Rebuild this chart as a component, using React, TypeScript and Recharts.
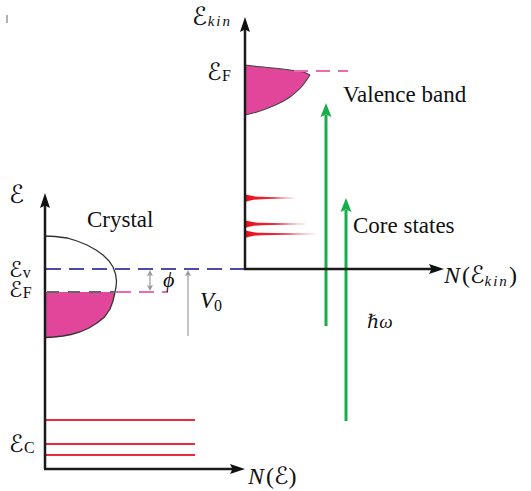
import React from 'react';
import { ComposedChart, XAxis, YAxis, Line, Area, Scatter } from 'recharts';

const W = 531;
const H = 491;

// ---- geometry (diagram units = image pixels, y measured downward) ----
const leftAxisV = [{ x: 45, y: 469 }, { x: 45, y: 203 }];
const leftAxisH = [{ x: 44, y: 469 }, { x: 236, y: 469 }];
const rightAxisV = [{ x: 245, y: 270 }, { x: 245, y: 28 }];
const rightAxisH = [{ x: 244, y: 269 }, { x: 434, y: 269 }];
const vacuumLevel = [{ x: 46, y: 269 }, { x: 244, y: 269 }];
const fermiLevelCrystal = 292;
const fermiCrystalInner = [{ x: 47, y: 292 }, { x: 115, y: 292 }];
const fermiCrystalOuter = [{ x: 116, y: 292 }, { x: 168, y: 292 }];
const fermiValence = [{ x: 294, y: 71 }, { x: 348, y: 71 }];
const coreLevelY = [420, 444, 455];
const coreLevelX = [46, 195];
const phiArrow = [{ x: 150, y: 275 }, { x: 150, y: 286 }];
const v0Arrow = [{ x: 188, y: 275 }, { x: 188, y: 336 }];
const photon1 = [{ x: 326, y: 326 }, { x: 326, y: 115 }];
const photon2 = [{ x: 346, y: 421 }, { x: 346, y: 210 }];
const marginTick = [{ x: 7, y: 15 }, { x: 7, y: 23 }];

// crystal density of states (outline)
const crystalDOS = [
  { x: 45, y: 236 }, { x: 55, y: 236.5 }, { x: 67, y: 238 }, { x: 77, y: 241 },
  { x: 87, y: 245 }, { x: 96, y: 250 }, { x: 103, y: 255 }, { x: 109, y: 261 },
  { x: 113, y: 267 }, { x: 115.5, y: 274 }, { x: 116.5, y: 281 }, { x: 116, y: 287 },
  { x: 115, y: 292 }, { x: 113, y: 301 }, { x: 110, y: 309 }, { x: 104.5, y: 317 },
  { x: 97, y: 323 }, { x: 89, y: 328 }, { x: 80, y: 332 }, { x: 71, y: 334.5 },
  { x: 63, y: 336 }, { x: 54, y: 337 }, { x: 46, y: 337.5 },
];
// occupied part (below the Fermi level): [top, bottom]
const crystalFilled = crystalDOS
  .filter((p) => p.y >= fermiLevelCrystal)
  .map((p) => ({ x: p.x, r: [fermiLevelCrystal, p.y] }))
  .sort((a, b) => a.x - b.x);

// valence band in the kinetic-energy spectrum
const valenceX = [245, 257, 273, 290, 303, 310];
const valenceTopY = [65, 66.5, 68, 70, 72, 75];
const valenceBottomY = [115, 112, 106, 97, 85, 75];
const valenceTop = valenceX.map((x, i) => ({ x, y: valenceTopY[i] }));
const valenceBottom = valenceX.map((x, i) => ({ x, y: valenceBottomY[i] }));
const valenceFilled = valenceX.map((x, i) => ({ x: Math.max(x, 246), r: [valenceTopY[i], valenceBottomY[i]] }));

// core-state peaks: centre level and tip position
const corePeakY = [198, 224, 234];
const corePeakTip = [295, 305, 315];
const peakHalfWidth = [3.6, 2.8, 1.8, 1.2, 0.8, 0.3];
const peakProfile = (yc: number, tip: number) => {
  const xs = [246, 249, 254, 262, 245 + (tip - 245) * 0.6, tip];
  return xs.map((x, i) => ({ x, r: [yc - peakHalfWidth[i], yc + peakHalfWidth[i]] }));
};

// arrow heads
const blackHeads = [
  { x: 45, y: 193, dir: 'up' }, { x: 245, y: 469, dir: 'right' },
  { x: 245, y: 17, dir: 'up' }, { x: 444, y: 269, dir: 'right' },
];
const greenHeads = [{ x: 326, y: 103, dir: 'up' }, { x: 346, y: 198, dir: 'up' }];
const grayHeads = [
  { x: 150, y: 270, dir: 'up' }, { x: 150, y: 291, dir: 'down' }, { x: 188, y: 270, dir: 'up' },
];

// labels (energy symbols; a stack lists several levels under one label)
const energyLabels = [
  { x: 9, y: 203, subs: [''], size: 25 },
  { x: 9, y: 277, subs: ['v', 'F'], size: 22 },
  { x: 9, y: 452, subs: ['C'], size: 24 },
  { x: 192, y: 25, subs: ['kin'], size: 25 },
  { x: 207, y: 80, subs: ['F'], size: 24 },
];
const stackGap = 20;
const textLabels = [
  { x: 87, y: 227, text: 'Crystal' },
  { x: 343, y: 102, text: 'Valence band' },
  { x: 353, y: 233, text: 'Core states' },
];
const dosLabels = [
  { x: 248, y: 484, sub: '' },
  { x: 444, y: 283, sub: 'kin' },
];
const symbolLabels = [
  { x: 163, y: 287, text: 'ϕ', sub: '', size: 22 },
  { x: 200, y: 308, text: 'V', sub: '0', size: 23 },
  { x: 367, y: 328, text: 'ℏω', sub: '', size: 19 },
];

const SERIF = '"Liberation Serif", "DejaVu Serif", serif';
const SCRIPT = '"DejaVu Serif", "DejaVu Sans", serif';

const headPath = (cx: number, cy: number, dir: string, len: number, hw: number, notch: number) => {
  const pts: Record<string, string> = {
    up: `M${cx},${cy} L${cx + hw},${cy + len} L${cx},${cy + len - notch} L${cx - hw},${cy + len} Z`,
    down: `M${cx},${cy} L${cx + hw},${cy - len} L${cx},${cy - len + notch} L${cx - hw},${cy - len} Z`,
    right: `M${cx},${cy} L${cx - len},${cy - hw} L${cx - len + notch},${cy} L${cx - len},${cy + hw} Z`,
  };
  return pts[dir];
};

const makeHead = (len: number, hw: number, notch: number, color: string) => (p: any) => (
  <path d={headPath(p.cx, p.cy, p.payload.dir, len, hw, notch)} fill={color} stroke="none" />
);

const EnergyText = (p: any) => {
  const subs: string[] = p.payload.subs;
  return (
    <text x={p.cx} y={p.cy} fontFamily={SCRIPT} fontSize={p.payload.size} fill="#111">
      {subs.map((s, i) => (
        <React.Fragment key={i}>
          <tspan x={p.cx} y={p.cy + i * stackGap}>ℰ</tspan>
          {s ? (
            <tspan
              dy={1}
              dx={0.5}
              fontFamily={SERIF}
              fontSize={s === 'kin' ? 15 : 16}
              fontStyle={s === 'kin' ? 'italic' : 'normal'}
              letterSpacing={s === 'kin' ? 2 : 0}
            >
              {s}
            </tspan>
          ) : null}
        </React.Fragment>
      ))}
    </text>
  );
};

const PlainText = (p: any) => (
  <text x={p.cx} y={p.cy} fontFamily={SERIF} fontSize={23} fill="#111">
    {p.payload.text}
  </text>
);

const DosText = (p: any) => (
  <text x={p.cx} y={p.cy} fontFamily={SERIF} fontSize={24} fill="#111">
    <tspan fontStyle="italic">N</tspan>
    <tspan dx={2}>(</tspan>
    <tspan fontFamily={SCRIPT} fontSize={24}>ℰ</tspan>
    {p.payload.sub ? (
      <tspan dy={3} fontSize={15} fontStyle="italic" letterSpacing={2}>
        {p.payload.sub}
      </tspan>
    ) : null}
    <tspan dy={p.payload.sub ? -3 : 0}>)</tspan>
  </text>
);

const SymbolText = (p: any) => (
  <text x={p.cx} y={p.cy} fontFamily={SERIF} fontSize={p.payload.size} fontStyle="italic" fill="#111">
    {p.payload.text}
    {p.payload.sub ? (
      <tspan dy={3} fontSize={16} fontStyle="normal">
        {p.payload.sub}
      </tspan>
    ) : null}
  </text>
);

const seg = (data: any[], color: string, width: number, dash?: string, type: any = 'linear') => (
  <Line
    data={data}
    dataKey="y"
    type={type}
    stroke={color}
    strokeWidth={width}
    strokeDasharray={dash}
    dot={false}
    activeDot={false}
    isAnimationActive={false}
  />
);

export default function App() {
  return (
    <div style={{ position: 'absolute', left: 0, top: 0, width: W, height: H, background: '#fff' }}>
      <ComposedChart width={W} height={H} margin={{ top: 0, right: 0, bottom: 0, left: 0 }}>
        <defs>
          <linearGradient id="spikeFill" x1="0" y1="0" x2="1" y2="0">
            <stop offset="0" stopColor="#e8101e" />
            <stop offset="0.6" stopColor="#ec3040" />
            <stop offset="1" stopColor="#f58090" stopOpacity={0.6} />
          </linearGradient>
        </defs>
        <XAxis type="number" dataKey="x" domain={[0, W]} hide allowDataOverflow />
        <YAxis type="number" dataKey="y" domain={[0, H]} reversed hide allowDataOverflow />

        {/* filled regions */}
        <Area data={crystalFilled} dataKey="r" type="linear" fill="#e2469a" fillOpacity={1} stroke="none" isAnimationActive={false} activeDot={false} />
        <Area data={valenceFilled} dataKey="r" type="monotone" fill="#e2469a" fillOpacity={1} stroke="none" isAnimationActive={false} activeDot={false} />
        {corePeakY.map((yc, i) => (
          <Area key={`pk${i}`} data={peakProfile(yc, corePeakTip[i])} dataKey="r" type="monotone" fill="url(#spikeFill)" fillOpacity={1} stroke="none" isAnimationActive={false} activeDot={false} />
        ))}

        {/* outlines */}
        {seg(crystalDOS, '#333', 1.3, undefined, 'linear')}
        {seg(valenceTop, '#444', 1.1, undefined, 'monotone')}
        {seg(valenceBottom, '#444', 1.1, undefined, 'monotone')}

        {/* levels */}
        {coreLevelY.map((y, i) => (
          <Line key={`cl${i}`} data={coreLevelX.map((x) => ({ x, y }))} dataKey="y" type="linear" stroke="#ea2a36" strokeWidth={2} dot={false} activeDot={false} isAnimationActive={false} />
        ))}
        {seg(vacuumLevel, '#4b4ba8', 2, '15 8')}
        {seg(fermiCrystalInner, '#666', 2, '12 9')}
        {seg(fermiCrystalOuter, '#ea6bb2', 2, '15 8')}
        {seg(fermiValence, '#ea6bb2', 2, '14 8')}
        {seg(phiArrow, '#9a9a9a', 1.2)}
        {seg(v0Arrow, '#9a9a9a', 1.2)}
        {seg(photon1, '#17ad4a', 3)}
        {seg(photon2, '#17ad4a', 3)}
        {seg(marginTick, '#999', 1.5)}

        {/* axes */}
        {seg(leftAxisV, '#1a1a1a', 2.5)}
        {seg(leftAxisH, '#1a1a1a', 2.5)}
        {seg(rightAxisV, '#1a1a1a', 2.5)}
        {seg(rightAxisH, '#1a1a1a', 2.5)}

        {/* arrow heads */}
        <Scatter data={blackHeads} shape={makeHead(15, 5, 2.5, '#111')} isAnimationActive={false} />
        <Scatter data={greenHeads} shape={makeHead(14, 5.5, 2.5, '#17ad4a')} isAnimationActive={false} />
        <Scatter data={grayHeads} shape={makeHead(6, 3, 1, '#9a9a9a')} isAnimationActive={false} />

        {/* labels */}
        <Scatter data={energyLabels} shape={EnergyText} isAnimationActive={false} />
        <Scatter data={textLabels} shape={PlainText} isAnimationActive={false} />
        <Scatter data={dosLabels} shape={DosText} isAnimationActive={false} />
        <Scatter data={symbolLabels} shape={SymbolText} isAnimationActive={false} />
      </ComposedChart>
    </div>
  );
}
